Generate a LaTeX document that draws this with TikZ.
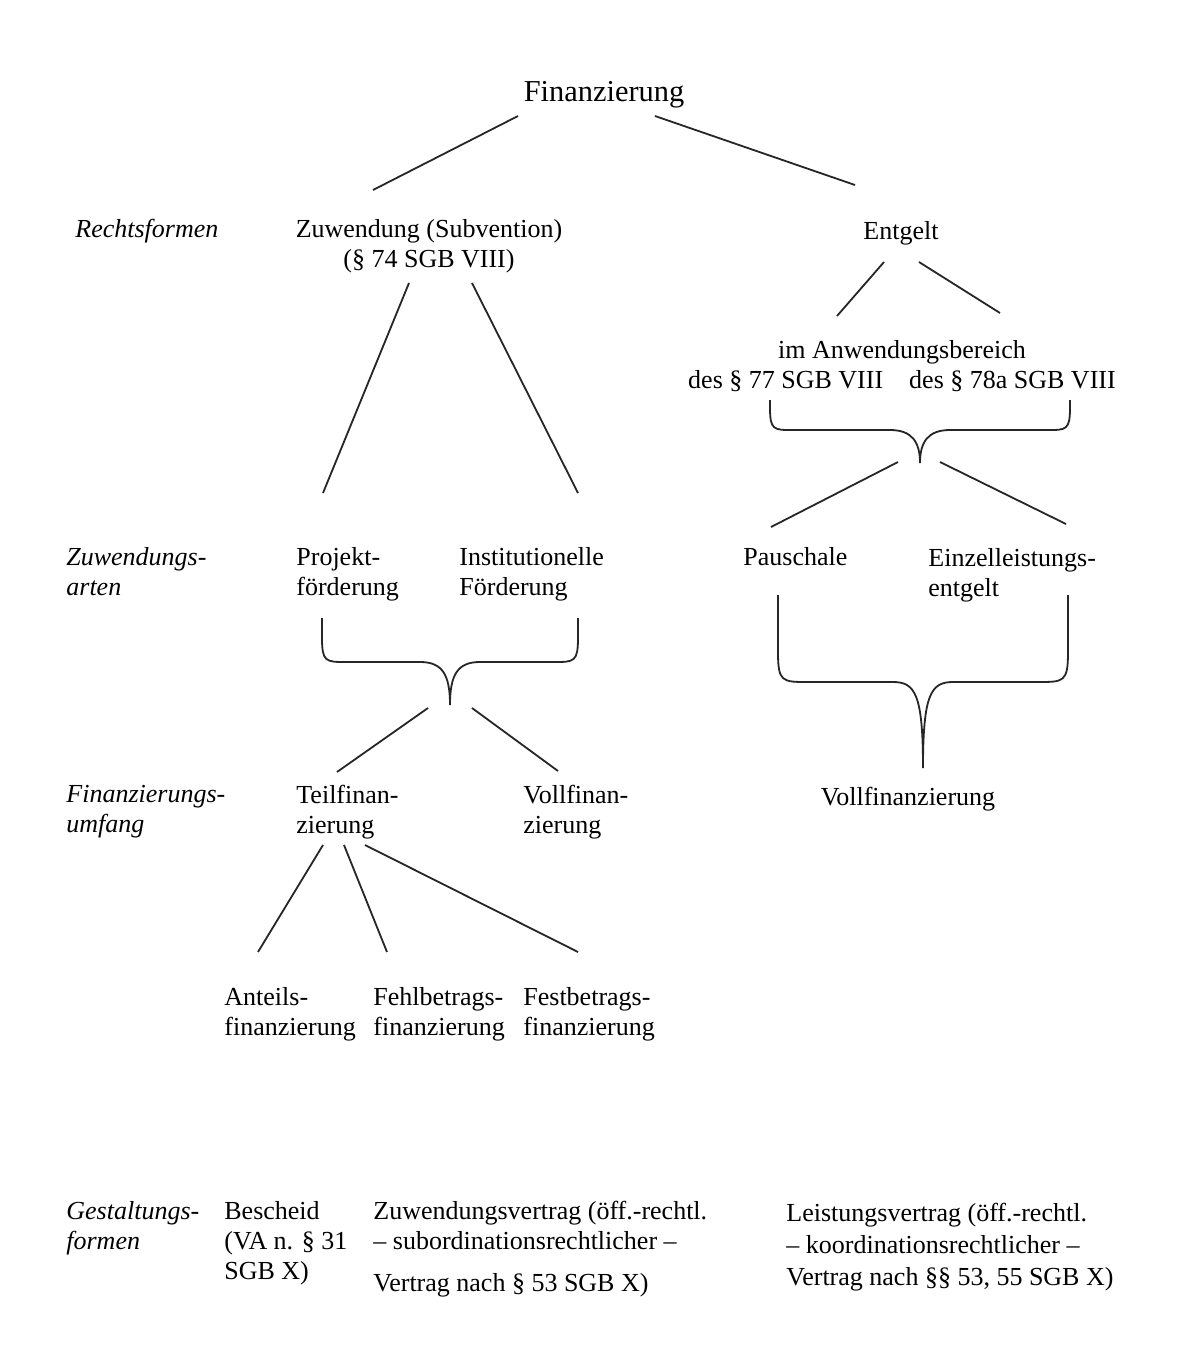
\documentclass[tikz,border=0pt]{standalone}
\usepackage{fontspec}
\setmainfont{Liberation Serif}
% xl, xr, ytop, yh, xc, ytip, arm-radius
\newcommand\mybrc[7]{(#1,#3) -- (#1,#4-#7) .. controls (#1,#4) and (#1+4,#4) .. (#1+#7,#4) -- (#5-30,#4) .. controls (#5-8,#4) and (#5,#4+12) .. (#5,#6) .. controls (#5,#4+12) and (#5+8,#4) .. (#5+30,#4) -- (#2-#7,#4) .. controls (#2-4,#4) and (#2,#4) .. (#2,#4-#7) -- (#2,#3)}
\begin{document}
\begin{tikzpicture}[x=0.5pt,y=-0.5pt,
  bodyfont/.style={font=\fontsize{13}{15}\selectfont},
  txt/.style={bodyfont, inner sep=0pt, align=left, anchor=north west},
  ctxt/.style={bodyfont, inner sep=0pt, align=center, anchor=north},
  lbl/.style={inner sep=0pt, align=left, anchor=north west, font=\fontsize{13}{15}\selectfont\itshape},
  ln/.style={line width=0.9pt, draw=black!85}]
\useasboundingbox[fill=white] (0,0) rectangle (1186,1351);

% nodes
\node[ctxt, font=\fontsize{15.2}{17}\selectfont] (fin) at (604,81) {Finanzierung};
\node[lbl] (rf) at (75,219) {Rechtsformen};
\node[ctxt] (zuw) at (429,219) {Zuwendung (Subvention)\\(§ 74 SGB VIII)};
\node[ctxt] (ent) at (901,221) {Entgelt};
\node[ctxt] (anw) at (902,340) {im Anwendungsbereich\\des § 77 SGB VIII\quad des § 78a SGB VIII};
\node[lbl] (za) at (66,547) {Zuwendungs-\\arten};
\node[txt] (pf) at (296,547) {Projekt-\\förderung};
\node[txt] (inf) at (459,547) {Institutionelle\\Förderung};
\node[txt] (pau) at (743,547) {Pauschale};
\node[txt] (ein) at (928,548) {Einzelleistungs-\\entgelt};
\node[lbl] (fu) at (66,785) {Finanzierungs-\\umfang};
\node[txt] (tf) at (296,785) {Teilfinan-\\zierung};
\node[txt] (vf) at (523,785) {Vollfinan-\\zierung};
\node[ctxt] (vf2) at (908,787) {Vollfinanzierung};
\node[txt] (af) at (224,987) {Anteils-\\finanzierung};
\node[txt] (fb) at (373,987) {Fehlbetrags-\\finanzierung};
\node[txt] (fe) at (523,987) {Festbetrags-\\finanzierung};
\node[lbl] (gf) at (66,1201) {Gestaltungs-\\formen};
\node[txt] (bs) at (224,1201) {Bescheid\\(VA n. § 31\\SGB X)};
\node[txt] (zv) at (373,1201) {Zuwendungsvertrag (öff.-rechtl.\\– subordinationsrechtlicher –\\[6pt]Vertrag nach § 53 SGB X)};
\node[txt] (lv) at (786,1203) {Leistungsvertrag (öff.-rechtl.\\[1pt]– koordinationsrechtlicher –\\[1pt]Vertrag nach §§ 53, 55 SGB X)};

% connector end points
\coordinate (finL) at (518,116);
\coordinate (finR) at (655,116);
\coordinate (zuwT) at (373,190);
\coordinate (entT) at (855,185);
\coordinate (zuwL) at (409,283);
\coordinate (zuwR) at (472,283);
\coordinate (pfT) at (323,493);
\coordinate (infT) at (578,493);
\coordinate (entL) at (884,262);
\coordinate (entR) at (919,262);
\coordinate (anwL) at (837,316);
\coordinate (anwR) at (1000,313);
\coordinate (braL) at (898,462);
\coordinate (braR) at (940,462);
\coordinate (pauT) at (771,527);
\coordinate (einT) at (1066,524);
\coordinate (brbL) at (428,708);
\coordinate (brbR) at (472,708);
\coordinate (tfT) at (337,772);
\coordinate (vfT) at (558,771);
\coordinate (tf1) at (323,845);
\coordinate (tf2) at (344,845);
\coordinate (tf3) at (365,845);
\coordinate (afT) at (258,952);
\coordinate (fbT) at (387,952);
\coordinate (feT) at (578,952);

\draw[ln] (finL) -- (zuwT);
\draw[ln] (finR) -- (entT);
\draw[ln] (zuwL) -- (pfT);
\draw[ln] (zuwR) -- (infT);
\draw[ln] (entL) -- (anwL);
\draw[ln] (entR) -- (anwR);
\draw[ln] (braL) -- (pauT);
\draw[ln] (braR) -- (einT);
\draw[ln] (brbL) -- (tfT);
\draw[ln] (brbR) -- (vfT);
\draw[ln] (tf1) -- (afT);
\draw[ln] (tf2) -- (fbT);
\draw[ln] (tf3) -- (feT);

% braces
\draw[ln] \mybrc{770}{1070}{400}{430}{920}{463}{22};
\draw[ln] \mybrc{322}{578}{618}{662}{450}{705}{24};
\draw[ln] \mybrc{778}{1068}{595}{682}{923}{768}{30};
\end{tikzpicture}
\end{document}
